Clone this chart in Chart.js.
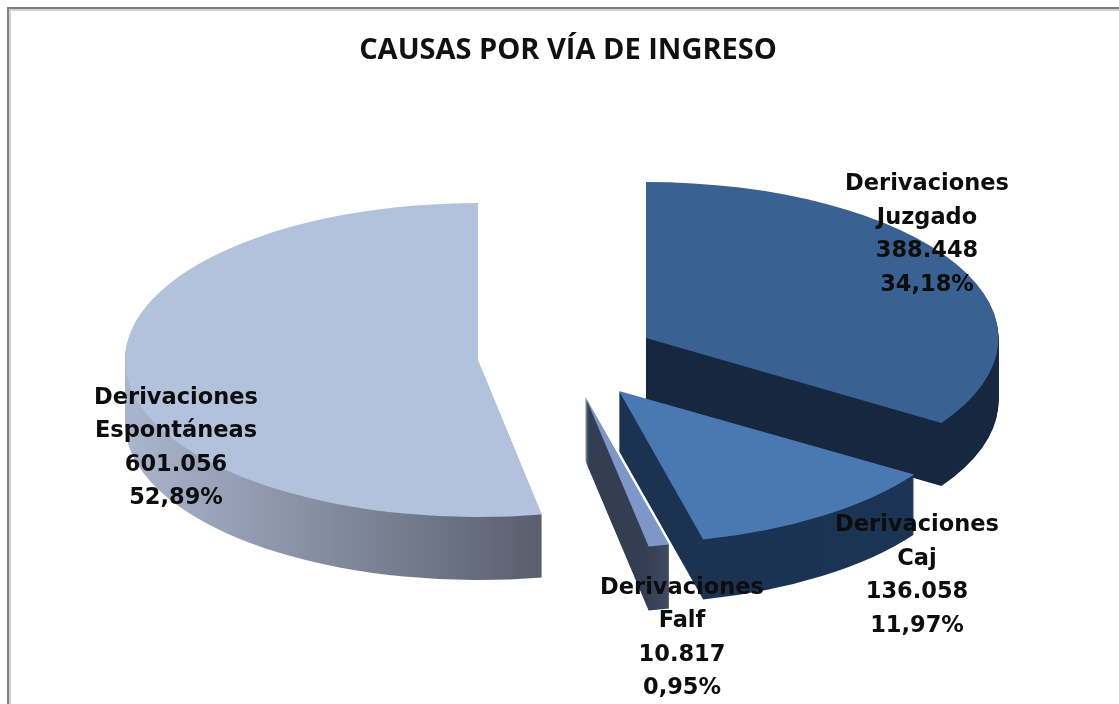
<!DOCTYPE html>
<html><head><meta charset="utf-8">
<style>
html,body{margin:0;padding:0;background:#fff;overflow:hidden}
#wrap{position:relative;width:1119px;height:704px}
canvas{position:absolute;left:0;top:0;filter:blur(0.45px)}
#frame{position:absolute;left:7px;top:7px;right:-10px;bottom:-10px;border-top:2px solid #808080;border-left:2px solid #808080;box-shadow:inset 2px 2px 0 #d0d0d0}
</style>
<script src="https://cdn.jsdelivr.net/npm/chart.js@4"></script>
</head><body><div id="wrap"><div id="frame"></div><canvas id="c" width="1119" height="704"></canvas></div>
<script>
const titleText = 'CAUSAS POR VÍA DE INGRESO';
const categories = ['Derivaciones Juzgado','Derivaciones Caj','Derivaciones Falf','Derivaciones Espontáneas'];
const values = [388448,136058,10817,601056];
const valueLabels = ['388.448','136.058','10.817','601.056'];
const percentLabels = ['34,18%','11,97%','0,95%','52,89%'];

// drawing style (3D look), one entry per slice
const topColors = ['#396191','#4a79b2','#7c97c8','#b3c2dc'];
const wallColors = [['#172740','#172740'],['#1b3350','#1c3455'],['#333e52','#3f4b63'],['#aab6ce','#5a5f6e']];
const wallRange = [[646,998],[618,915],[645,670],[125,541]];
const apexX = [646,619,585,478];
const apexY = [338,391,396,360];
const radiusX = [352.5,352,352,353];
const radiusY = [156,153,153,157];
const depth = [63,60,64,63];
const labelX = [927,917,682,176];
const labelY = [184.5,525.5,588,398];
const lineGap = 33.5;

const pie3d = {
  id:'pie3d',
  beforeDatasetDraw(chart,args){
    const ctx = chart.ctx, arcs = args.meta.data;
    [3,0,1,2].forEach(i=>{
      const a = arcs[i], sx = radiusX[i]/a.outerRadius, sy = radiusY[i]/a.outerRadius;
      const place = d=>{ctx.translate(apexX[i],apexY[i]+d);ctx.scale(sx,sy);ctx.translate(-a.x,-a.y);};
      const saved = a.options;
      ctx.save();place(0);
      const gx0 = a.x+(wallRange[i][0]-apexX[i])/sx, gx1 = a.x+(wallRange[i][1]-apexX[i])/sx;
      const g = ctx.createLinearGradient(gx0,0,gx1,0);
      g.addColorStop(0,wallColors[i][0]);g.addColorStop(1,wallColors[i][1]);
      ctx.restore();
      a.options = {backgroundColor:g,borderColor:'transparent',borderWidth:0,borderAlign:'center',borderRadius:0,borderDash:[],borderDashOffset:0,borderJoinStyle:'round',offset:0,spacing:0,circular:true,selfJoin:false};
      for(let d=depth[i];d>=1;d--){ctx.save();place(d);a.draw(ctx);ctx.restore();}
      a.options = saved;
      ctx.save();place(0);a.draw(ctx);ctx.restore();
    });
    return false;
  },
  afterDraw(chart){
    const ctx = chart.ctx;
    ctx.save();
    ctx.fillStyle='#0d0d0d';ctx.textAlign='center';ctx.textBaseline='middle';
    ctx.font='bold 22.5px "DejaVu Sans"';
    [0,1,2,3].forEach(i=>{
      const sp = categories[i].indexOf(' ');
      const lines=[categories[i].slice(0,sp),categories[i].slice(sp+1),valueLabels[i],percentLabels[i]];
      lines.forEach((t,k)=>ctx.fillText(t,labelX[i],labelY[i]+k*lineGap));
    });
    ctx.restore();
  }
};

new Chart(document.getElementById('c'),{
  type:'pie',
  data:{labels:categories,datasets:[{data:values,backgroundColor:topColors,borderWidth:0}]},
  options:{
    responsive:false,animation:false,
    layout:{padding:{left:17}},
    plugins:{
      legend:{display:false},tooltip:{enabled:false},
      title:{display:true,text:titleText,color:'#111',font:{family:'"Open Sans"',size:29,weight:'bold'},padding:{top:33,bottom:0}}
    }
  },
  plugins:[pie3d]
});
</script></body></html>
